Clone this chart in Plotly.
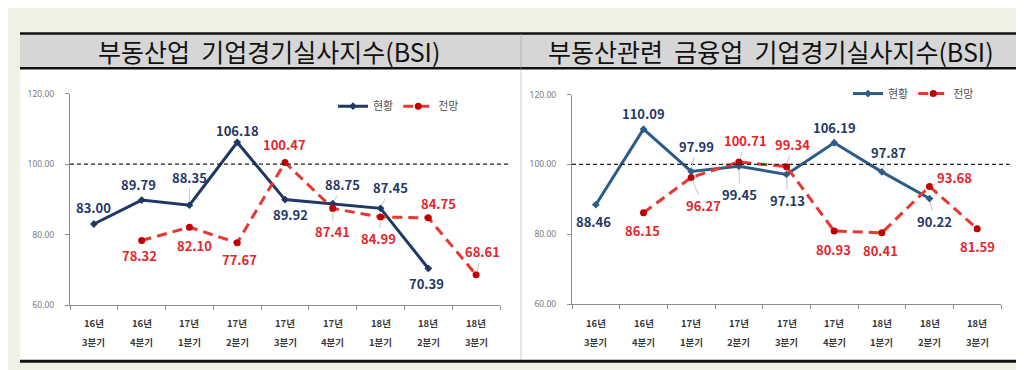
import plotly.graph_objects as go

# ---------------- data ----------------
years = ["16년", "16년", "17년", "17년", "17년", "17년", "18년", "18년", "18년"]
quarters = ["3분기", "4분기", "1분기", "2분기", "3분기", "4분기", "1분기", "2분기", "3분기"]
categories = ["16년 3분기", "16년 4분기", "17년 1분기", "17년 2분기", "17년 3분기",
              "17년 4분기", "18년 1분기", "18년 2분기", "18년 3분기"]

re_current = [83.00, 89.79, 88.35, 106.18, 89.92, 88.75, 87.45, 70.39, None]
re_outlook = [None, 78.32, 82.10, 77.67, 100.47, 87.41, 84.99, 84.75, 68.61]

fin_current = [88.46, 110.09, 97.99, 99.45, 97.13, 106.19, 97.87, 90.22, None]
fin_outlook = [None, 86.15, 96.27, 100.71, 99.34, 80.93, 80.41, 93.68, 81.59]

title_left = "부동산업\u00a0\u00a0기업경기실사지수(BSI)"
title_right = "부동산관련\u00a0\u00a0금융업\u00a0\u00a0기업경기실사지수(BSI)"
series_names = ["현황", "전망"]
y_ticks = [60, 80, 100, 120]

# ---------------- styles ----------------
# label offsets (dx, dy in px) and whether a leader line is drawn
re_cur_off = [(0, -17, 0), (-3, -16, 0), (0, -28, 1), (0, -12, 0), (5, 15, 0),
              (10, -19, 1), (10, -21, 1), (-2, 15, 0), None]
re_out_off = [None, (-2, 15, 0), (5, 18, 0), (2, 17, 0), (-1, -18, 0),
              (0, 23, 1), (-2, 22, 1), (10, -14, 1), (6, -23, 1)]
fin_cur_off = [(-2, 17, 0), (0, -16, 0), (5, -25, 1), (1, 28, 1), (1, 26, 1),
               (0, -15, 0), (7, -19, 1), (5, 23, 1), None]
fin_out_off = [None, (-1, 18, 0), (12, 28, 1), (7, -21, 1), (6, -22, 1),
               (-1, 18, 0), (-1, 18, 0), (25, -9, 1), (0, 18, 0)]

W, H = 1024, 370
NAVY = "#1F3864"
STEEL = "#2E5B87"
RED_LINE = "#E8372F"
RED_MARK = "#C00000"
RED_TEXT = "#E3262C"
FONT = "Noto Sans CJK KR"


def px(x):
    return x / W


def py(y):
    return (H - y) / H


fig = go.Figure()

panels = [
    dict(cur=re_current, out=re_outlook, xa="x", ya="y", legend="legend",
         cur_color=NAVY, cur_off=re_cur_off, out_off=re_out_off),
    dict(cur=fin_current, out=fin_outlook, xa="x2", ya="y2", legend="legend2",
         cur_color=STEEL, cur_off=fin_cur_off, out_off=fin_out_off),
]

annotations = []
for p in panels:
    fig.add_trace(go.Scatter(
        x=categories, y=p["cur"], name=series_names[0], xaxis=p["xa"], yaxis=p["ya"],
        mode="lines+markers", legend=p["legend"],
        line=dict(color=p["cur_color"], width=3),
        marker=dict(symbol="diamond", size=6, color=p["cur_color"]),
        connectgaps=False, hoverinfo="skip"))
    fig.add_trace(go.Scatter(
        x=categories, y=p["out"], name=series_names[1], xaxis=p["xa"], yaxis=p["ya"],
        mode="lines+markers", legend=p["legend"],
        line=dict(color=RED_LINE, width=3, dash="10px,6px"),
        marker=dict(symbol="circle", size=7, color=RED_MARK),
        connectgaps=False, hoverinfo="skip"))

    for vals, offs, col in [(p["cur"], p["cur_off"], NAVY), (p["out"], p["out_off"], RED_TEXT)]:
        for c, v, o in zip(categories, vals, offs):
            if v is None:
                continue
            dx, dy, lead = o
            annotations.append(dict(
                x=c, y=v, xref=p["xa"], yref=p["ya"],
                text=f"<b>{v:.2f}</b>", showarrow=True, ax=dx, ay=dy,
                arrowhead=0, arrowwidth=1, standoff=3,
                arrowcolor="#C4C4C4" if lead else "rgba(0,0,0,0)",
                font=dict(family=FONT, size=13, color=col)))

    # x category labels (two rows)
    for c, yr, q in zip(categories, years, quarters):
        for txt, yy in [(yr, 318), (q, 338)]:
            annotations.append(dict(
                x=c, y=py(yy), xref=p["xa"], yref="paper", text=f"<b>{txt}</b>",
                showarrow=False, xanchor="center", yanchor="middle",
                font=dict(family=FONT, size=9.5, color="#3A3A3A")))

# titles
annotations.append(dict(x=px(261), y=py(38), xref="paper", yref="paper", text=title_left,
                        showarrow=False, xanchor="center", yanchor="middle",
                        font=dict(family=FONT, size=25, color="#111111")))
annotations.append(dict(x=px(763), y=py(38), xref="paper", yref="paper", text=title_right,
                        showarrow=False, xanchor="center", yanchor="middle",
                        font=dict(family=FONT, size=25, color="#111111")))

shapes = [
    # white panel
    dict(type="rect", xref="paper", yref="paper", x0=px(12), x1=px(1013), y0=py(357), y1=py(56),
         fillcolor="white", line=dict(width=0), layer="below"),
    # title bar
    dict(type="rect", xref="paper", yref="paper", x0=px(12), x1=px(1013), y0=py(56), y1=py(20),
         fillcolor="#D6D6D6", line=dict(width=0), layer="below"),
    dict(type="line", xref="paper", yref="paper", x0=px(12), x1=px(1015), y0=py(20), y1=py(20),
         line=dict(color="#111111", width=2.5)),
    dict(type="line", xref="paper", yref="paper", x0=px(12), x1=px(1015), y0=py(56), y1=py(56),
         line=dict(color="#111111", width=2.5)),
    dict(type="line", xref="paper", yref="paper", x0=px(12), x1=px(1015), y0=py(358), y1=py(358),
         line=dict(color="#111111", width=3)),
    # divider
    dict(type="line", xref="paper", yref="paper", x0=px(513), x1=px(513), y0=py(21), y1=py(356),
         line=dict(color="#9A9A9A", width=1, dash="1px,1px")),
    # 100 reference lines
    dict(type="line", xref="x domain", yref="y", x0=0, x1=1.02, y0=100, y1=100,
         line=dict(color="#222222", width=1.3, dash="4px,3px")),
    dict(type="line", xref="x2 domain", yref="y2", x0=0, x1=1.02, y0=100, y1=100,
         line=dict(color="#222222", width=1.3, dash="4px,3px")),
]

xaxis_common = dict(type="category", range=[-0.5, 8.5], showticklabels=False,
                    ticks="outside", ticklen=4, tickcolor="#8C8C8C", tickson="boundaries",
                    showline=True, linecolor="#8C8C8C", linewidth=1.2, showgrid=False,
                    zeroline=False, fixedrange=True)
yaxis_common = dict(range=[60, 120], tickvals=y_ticks, tickformat=".2f",
                    ticks="outside", ticklen=4, tickcolor="#8C8C8C", ticklabelstandoff=9,
                    showline=True, linecolor="#8C8C8C", linewidth=1.2, showgrid=False,
                    zeroline=False, tickfont=dict(family="Noto Sans", size=8.5, color="#7A7A7A"),
                    fixedrange=True)

legend_common = dict(orientation="h", yanchor="middle", xanchor="left",
                     bgcolor="rgba(0,0,0,0)", itemwidth=30,
                     font=dict(family=FONT, size=11, color="#505050"))

fig.update_layout(
    width=W, height=H,
    margin=dict(l=0, r=0, t=0, b=0),
    paper_bgcolor="#EDF2E4",
    plot_bgcolor="rgba(0,0,0,0)",
    xaxis=dict(domain=[px(62), px(492)], anchor="y", **xaxis_common),
    yaxis=dict(domain=[py(300), py(82)], anchor="x", **yaxis_common),
    xaxis2=dict(domain=[px(564), px(993)], anchor="y2", **xaxis_common),
    yaxis2=dict(domain=[py(299), py(83)], anchor="x2", **yaxis_common),
    legend=dict(x=px(325), y=py(95), **legend_common),
    legend2=dict(x=px(840), y=py(82), **legend_common),
    shapes=shapes,
    annotations=annotations,
    showlegend=True,
)

fig.write_html("out.html")
